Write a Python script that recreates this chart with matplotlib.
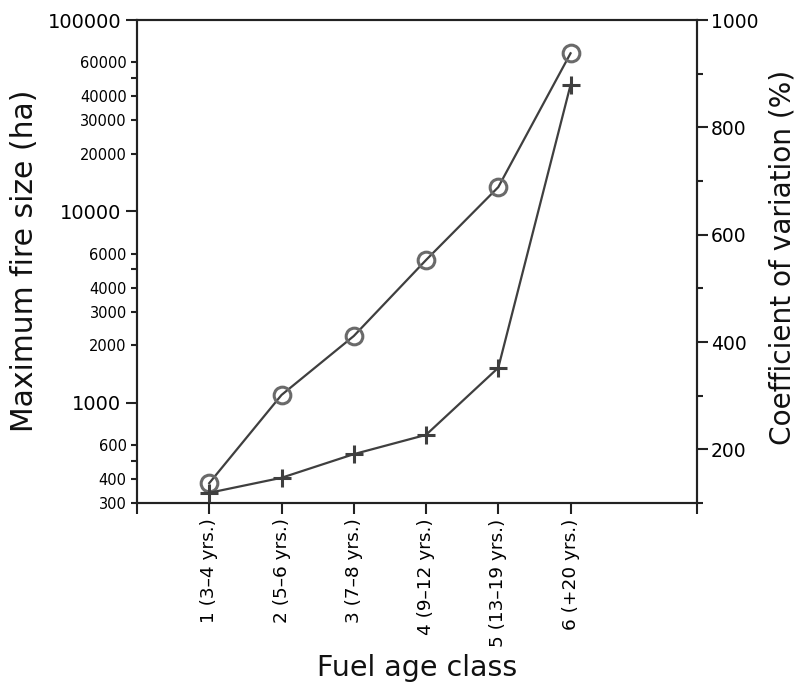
import matplotlib
matplotlib.use('Agg')
import matplotlib.pyplot as plt
from matplotlib.ticker import FixedLocator, FixedFormatter

# Data
classes = ['1 (3–4 yrs.)', '2 (5–6 yrs.)', '3 (7–8 yrs.)', '4 (9–12 yrs.)',
           '5 (13–19 yrs.)', '6 (+20 yrs.)']
x_pos = [1, 2, 3, 4, 5, 6]
max_fire_size = [381, 1100, 2235, 5575, 13400, 67000]
coef_variation = [119, 147, 191, 227, 352, 879]

left_major = [1000, 10000, 100000]
left_minor = [300, 400, 500, 600, 2000, 3000, 4000, 5000, 6000,
              20000, 30000, 40000, 50000, 60000]
left_minor_labels = ['300', '400', '', '600', '2000', '3000', '4000', '', '6000',
                     '20000', '30000', '40000', '', '60000']
right_major = [200, 400, 600, 800, 1000]
right_minor = [100, 300, 500, 700, 900]

plt.rcParams['font.family'] = ['DejaVu Sans']
line_c = '#3f3f3f'
mark_c = '#6a6a6a'
spine_c = '#222222'
W, H = 799, 683

fig = plt.figure(figsize=(W/100, H/100), dpi=100)
ax = fig.add_axes([137/W, 1-503/H, 560/W, 483/H])
ax2 = ax.twinx()

ax.set_yscale('log')
ax.set_ylim(300, 100000)
ax.set_xlim(0, 7.75)
ax2.set_ylim(100, 1000)

ax.plot(x_pos, max_fire_size, color=line_c, lw=1.6, marker='o', ms=12,
        mfc='none', mec=mark_c, mew=2.2, zorder=3)
ax2.plot(x_pos, coef_variation, color=line_c, lw=1.6, marker='+', ms=13,
         mec=line_c, mew=2.2, zorder=3)

# x axis
ax.set_xticks([0] + x_pos + [7.75])
ax.set_xticklabels([''] + classes + [''], rotation=90, va='top', ha='center',
                   fontsize=13.3)
ax.tick_params(axis='x', which='major', length=8, width=1.5, color=spine_c, pad=3)

# left axis
ax.yaxis.set_major_locator(FixedLocator(left_major))
ax.yaxis.set_major_formatter(FixedFormatter([str(v) for v in left_major]))
ax.yaxis.set_minor_locator(FixedLocator(left_minor))
ax.yaxis.set_minor_formatter(FixedFormatter(left_minor_labels))
ax.tick_params(axis='y', which='major', labelsize=14, length=8, width=1.5, color=spine_c)
ax.tick_params(axis='y', which='minor', labelsize=10.5, length=4, width=1.5, color=spine_c)

# right axis
ax2.set_yticks(right_major)
ax2.set_yticklabels([str(v) for v in right_major])
ax2.yaxis.set_minor_locator(FixedLocator(right_minor))
ax2.tick_params(axis='y', which='major', labelsize=13.5, length=8, width=1.5, color=spine_c, pad=2)
ax2.tick_params(axis='y', which='minor', length=4, width=1.5, color=spine_c)

for a in (ax, ax2):
    for s in a.spines.values():
        s.set_linewidth(1.5)
        s.set_color(spine_c)

# axis titles
fig.text(25/W, 1-261/H, 'Maximum fire size (ha)', rotation=90, ha='center',
         va='center', fontsize=21.5, color='#111111')
fig.text(782/W, 1-257/H, 'Coefficient of variation (%)', rotation=90, ha='center',
         va='center', fontsize=20.2, color='#111111')
fig.text(417/W, 1-676/H, 'Fuel age class', ha='center', va='baseline',
         fontsize=20.5, color='#111111')

fig.savefig('out.png', dpi=100)
